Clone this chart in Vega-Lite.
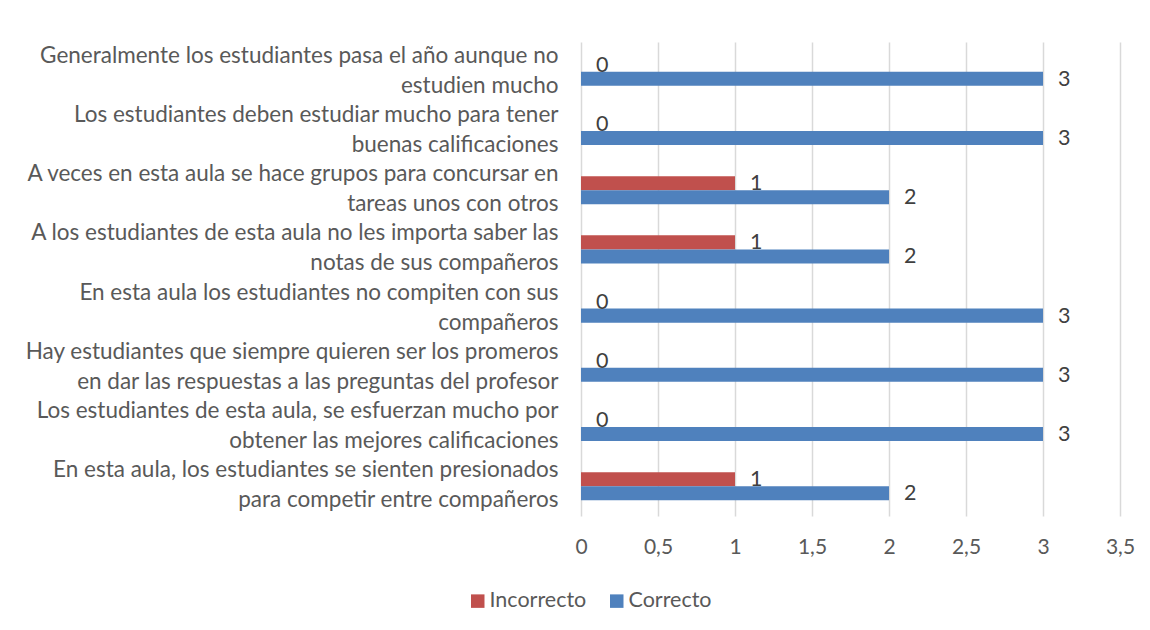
{
  "$schema": "https://vega.github.io/schema/vega-lite/v6.json",
  "width": 539,
  "height": 474,
  "autosize": {"type": "none"},
  "padding": {"left": 581, "top": 42, "right": 30, "bottom": 114},
  "background": "white",
  "config": {
    "view": {"stroke": null},
    "font": "Lato",
    "text": {"font": "Lato"}
  },
  "data": {
    "values": [
      {"pregunta": "Generalmente los estudiantes pasa el año aunque no|estudien mucho", "serie": "Incorrecto", "valor": 0},
      {"pregunta": "Generalmente los estudiantes pasa el año aunque no|estudien mucho", "serie": "Correcto", "valor": 3},
      {"pregunta": "Los estudiantes deben estudiar mucho para tener|buenas calificaciones", "serie": "Incorrecto", "valor": 0},
      {"pregunta": "Los estudiantes deben estudiar mucho para tener|buenas calificaciones", "serie": "Correcto", "valor": 3},
      {"pregunta": "A veces en esta aula se hace grupos para concursar en|tareas unos con otros", "serie": "Incorrecto", "valor": 1},
      {"pregunta": "A veces en esta aula se hace grupos para concursar en|tareas unos con otros", "serie": "Correcto", "valor": 2},
      {"pregunta": "A los estudiantes de esta aula no les importa saber las|notas de sus compañeros", "serie": "Incorrecto", "valor": 1},
      {"pregunta": "A los estudiantes de esta aula no les importa saber las|notas de sus compañeros", "serie": "Correcto", "valor": 2},
      {"pregunta": "En esta aula los estudiantes no compiten con sus|compañeros", "serie": "Incorrecto", "valor": 0},
      {"pregunta": "En esta aula los estudiantes no compiten con sus|compañeros", "serie": "Correcto", "valor": 3},
      {"pregunta": "Hay estudiantes que siempre quieren ser los promeros|en dar las respuestas a las preguntas del profesor", "serie": "Incorrecto", "valor": 0},
      {"pregunta": "Hay estudiantes que siempre quieren ser los promeros|en dar las respuestas a las preguntas del profesor", "serie": "Correcto", "valor": 3},
      {"pregunta": "Los estudiantes de esta aula, se esfuerzan mucho por|obtener las mejores calificaciones", "serie": "Incorrecto", "valor": 0},
      {"pregunta": "Los estudiantes de esta aula, se esfuerzan mucho por|obtener las mejores calificaciones", "serie": "Correcto", "valor": 3},
      {"pregunta": "En esta aula, los estudiantes se sienten presionados|para competir entre compañeros", "serie": "Incorrecto", "valor": 1},
      {"pregunta": "En esta aula, los estudiantes se sienten presionados|para competir entre compañeros", "serie": "Correcto", "valor": 2}
    ]
  },
  "encoding": {
    "y": {
      "field": "pregunta",
      "type": "nominal",
      "sort": [
        "Generalmente los estudiantes pasa el año aunque no|estudien mucho",
        "Los estudiantes deben estudiar mucho para tener|buenas calificaciones",
        "A veces en esta aula se hace grupos para concursar en|tareas unos con otros",
        "A los estudiantes de esta aula no les importa saber las|notas de sus compañeros",
        "En esta aula los estudiantes no compiten con sus|compañeros",
        "Hay estudiantes que siempre quieren ser los promeros|en dar las respuestas a las preguntas del profesor",
        "Los estudiantes de esta aula, se esfuerzan mucho por|obtener las mejores calificaciones",
        "En esta aula, los estudiantes se sienten presionados|para competir entre compañeros"
      ],
      "scale": {"paddingInner": 0.527, "paddingOuter": 0.264},
      "axis": {
        "title": null,
        "domain": false,
        "ticks": false,
        "grid": false,
        "labelExpr": "split(datum.label, '|')",
        "labelFont": "Lato",
        "labelFontSize": 22.5,
        "labelColor": "#595959",
        "labelLineHeight": 30,
        "labelPadding": 23,
        "labelOffset": -16,
        "labelLimit": 1000,
        "labelBaseline": "middle"
      }
    },
    "yOffset": {
      "field": "serie",
      "type": "nominal",
      "sort": ["Incorrecto", "Correcto"],
      "scale": {"paddingInner": 0, "paddingOuter": 0}
    },
    "x": {
      "field": "valor",
      "type": "quantitative",
      "scale": {"domain": [0, 3.5], "nice": false, "zero": true},
      "axis": {
        "title": null,
        "domain": false,
        "ticks": false,
        "grid": true,
        "gridColor": "#D9D9D9",
        "gridWidth": 1.5,
        "values": [0, 0.5, 1, 1.5, 2, 2.5, 3, 3.5],
        "labelExpr": "replace(toString(datum.value), '.', ',')",
        "labelFont": "Lato",
        "labelFontSize": 21,
        "labelColor": "#595959",
        "labelPadding": 20,
        "labelFlush": false
      }
    }
  },
  "layer": [
    {
      "mark": {"type": "bar"},
      "encoding": {
        "color": {
          "field": "serie",
          "type": "nominal",
          "scale": {"domain": ["Incorrecto", "Correcto"], "range": ["#C0504D", "#4F81BD"]},
          "legend": {
            "orient": "none",
            "legendX": -114,
            "legendY": 548,
            "direction": "horizontal",
            "title": null,
            "symbolType": "square",
            "symbolSize": 182,
            "symbolStrokeWidth": 0,
            "labelFont": "Lato",
            "labelFontSize": 21.5,
            "labelColor": "#595959",
            "labelOffset": 1,
            "columnPadding": 19,
            "padding": 0
          }
        }
      }
    },
    {
      "mark": {"type": "text", "align": "left", "baseline": "middle", "dx": 15, "dy": 1, "fontSize": 21.5, "font": "Lato", "color": "#404040"},
      "encoding": {
        "text": {"field": "valor", "type": "quantitative"}
      }
    }
  ]
}
